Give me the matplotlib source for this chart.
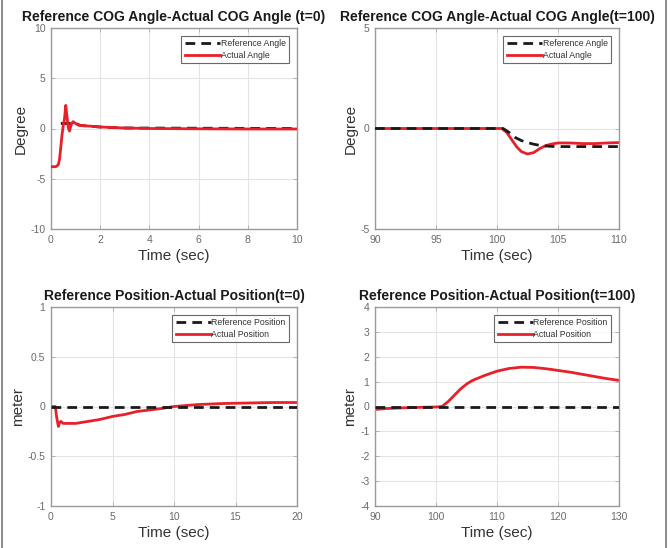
import matplotlib
matplotlib.use("Agg")
import matplotlib.pyplot as plt
from matplotlib.lines import Line2D

plt.rcParams['font.family'] = ['Liberation Sans', 'DejaVu Sans']

# ---------------- data ----------------
# Top-left: COG angle, t=0
tl_t_act = [0, 0.2, 0.3, 0.35, 0.4, 0.45, 0.5, 0.55, 0.6, 0.65, 0.7, 0.75, 0.8, 0.85, 0.9, 1.0, 1.1, 1.2, 1.5, 2, 3, 4, 6, 8, 10]
tl_y_act = [-3.8, -3.8, -3.6, -3.0, -1.8, -0.6, 0.3, 1.0, 2.3, 1.2, 0.1, -0.25, 0.2, 0.55, 0.68, 0.5, 0.35, 0.3, 0.25, 0.15, 0.05, 0.0, -0.03, -0.05, -0.05]
tl_t_ref = [0.4, 0.5, 1.0, 1.2, 2, 3, 10]
tl_y_ref = [0.5, 0.5, 0.5, 0.3, 0.15, 0.05, 0.0]

# Top-right: COG angle, t=100
tr_t_act = [90, 95, 100, 100.4, 100.8, 101.2, 101.6, 102, 102.5, 103, 103.5, 104, 104.5, 105, 106, 107, 108, 109, 110]
tr_y_act = [0, 0, 0, 0, -0.2, -0.55, -0.9, -1.15, -1.27, -1.2, -1.0, -0.85, -0.77, -0.72, -0.72, -0.75, -0.75, -0.72, -0.7]
tr_t_ref = [90, 100, 100.5, 101, 101.5, 102, 102.5, 103, 103.5, 104, 104.5, 105, 110]
tr_y_ref = [0, 0, 0, -0.2, -0.45, -0.6, -0.7, -0.78, -0.84, -0.87, -0.89, -0.9, -0.9]

# Bottom-left: position, t=0
bl_t_act = [0, 0.35, 0.45, 0.6, 0.7, 0.8, 1.0, 1.5, 2, 3, 4, 5, 6, 7, 8, 9, 10, 11, 12, 14, 16, 18, 20]
bl_y_act = [0, 0, -0.1, -0.2, -0.16, -0.15, -0.17, -0.17, -0.17, -0.15, -0.13, -0.1, -0.08, -0.05, -0.035, -0.02, 0.0, 0.01, 0.02, 0.03, 0.035, 0.04, 0.04]
bl_t_ref = [0, 20]
bl_y_ref = [0, 0]

# Bottom-right: position, t=100
br_t_act = [90, 92, 95, 98, 100, 101, 102, 103, 104, 105, 106, 108, 110, 112, 114, 116, 118, 120, 122, 125, 128, 130]
br_y_act = [-0.12, -0.08, -0.05, -0.03, -0.02, 0.0, 0.2, 0.45, 0.7, 0.9, 1.05, 1.25, 1.42, 1.53, 1.58, 1.57, 1.52, 1.45, 1.38, 1.25, 1.12, 1.05]
br_t_ref = [90, 130]
br_y_ref = [0, 0]

titles = ["Reference COG Angle-Actual COG Angle (t=0)",
          "Reference COG Angle-Actual COG Angle(t=100)",
          "Reference Position-Actual Position(t=0)",
          "Reference Position-Actual Position(t=100)"]
ylabels = ["Degree", "Degree", "meter", "meter"]
xlabel = "Time (sec)"
legends_ang = ["Reference Angle", "Actual Angle"]
legends_pos = ["Reference Position", "Actual Position"]

xlims = [(0, 10), (90, 110), (0, 20), (90, 130)]
ylims = [(-10, 10), (-5, 5), (-1, 1), (-4, 4)]
xticks = [[0, 2, 4, 6, 8, 10], [90, 95, 100, 105, 110], [0, 5, 10, 15, 20], [90, 100, 110, 120, 130]]
yticks = [[-10, -5, 0, 5, 10], [-5, 0, 5], [-1, -0.5, 0, 0.5, 1], [-4, -3, -2, -1, 0, 1, 2, 3, 4]]
yticklabels = [["-10", "-5", "0", "5", "10"], ["-5", "0", "5"], ["-1", "-0.5", "0", "0.5", "1"],
               ["-4", "-3", "-2", "-1", "0", "1", "2", "3", "4"]]

W, H = 672, 548
fig = plt.figure(figsize=(W / 100, H / 100), dpi=100)

# axes pixel boxes (left, top, right, bottom)
boxes = [(51, 28, 297, 229), (375, 28, 619, 229), (51, 307, 297, 506), (375, 307, 619, 506)]

series = [
    (tl_t_ref, tl_y_ref, tl_t_act, tl_y_act, legends_ang),
    (tr_t_ref, tr_y_ref, tr_t_act, tr_y_act, legends_ang),
    (bl_t_ref, bl_y_ref, bl_t_act, bl_y_act, legends_pos),
    (br_t_ref, br_y_ref, br_t_act, br_y_act, legends_pos),
]
red_on_top = [True, False, False, False]

tick_col = '#6a6a6a'
for i, (l, t, r, b) in enumerate(boxes):
    ax = fig.add_axes([l / W, 1 - b / H, (r - l) / W, (b - t) / H])
    tr_, yr_, ta_, ya_, leg = series[i]
    ax.plot(tr_, yr_, color='#1a1a1a', lw=2, ls=(0, (3.5, 2.2)), label=leg[0], zorder=3)
    ax.plot(ta_, ya_, color='#e8202a', lw=2, label=leg[1], zorder=4 if red_on_top[i] else 2)
    ax.set_xlim(*xlims[i])
    ax.set_ylim(*ylims[i])
    ax.set_xticks(xticks[i])
    ax.set_yticks(yticks[i])
    ax.set_yticklabels(yticklabels[i])
    ax.grid(True, color='#e4e4e4', lw=0.8)
    ax.set_axisbelow(True)
    ax.tick_params(direction='in', length=3, width=0.6, colors='#aaaaaa',
                   labelcolor=tick_col, labelsize=7.5, top=True, right=True, pad=4)
    for s in ax.spines.values():
        s.set_color('#9a9a9a')
        s.set_linewidth(1.0)
    ax.set_title(titles[i], fontsize=10, fontweight='bold', color='#1a1a1a', pad=5)
    ax.set_xlabel(xlabel, fontsize=11, color='#333333', labelpad=3)
    ax.set_ylabel(ylabels[i], fontsize=11, color='#333333', labelpad=2)
    lg = ax.legend(loc='upper right', fontsize=6.3, frameon=True, fancybox=False,
                   edgecolor='#444444', handlelength=4.0, handletextpad=0.1,
                   borderpad=0.4, labelspacing=0.25, borderaxespad=0.9)
    lg.get_frame().set_linewidth(0.8)
    lg.set_zorder(10)
    for txt in lg.get_texts():
        txt.set_color('#333333')

# outer frame lines
fig.add_artist(Line2D([2 / W, 2 / W], [0, 1], color='#777777', lw=1.2))
fig.add_artist(Line2D([666 / W, 666 / W], [0, 1], color='#777777', lw=1.2))

fig.savefig("out.png", dpi=100, facecolor='white')
